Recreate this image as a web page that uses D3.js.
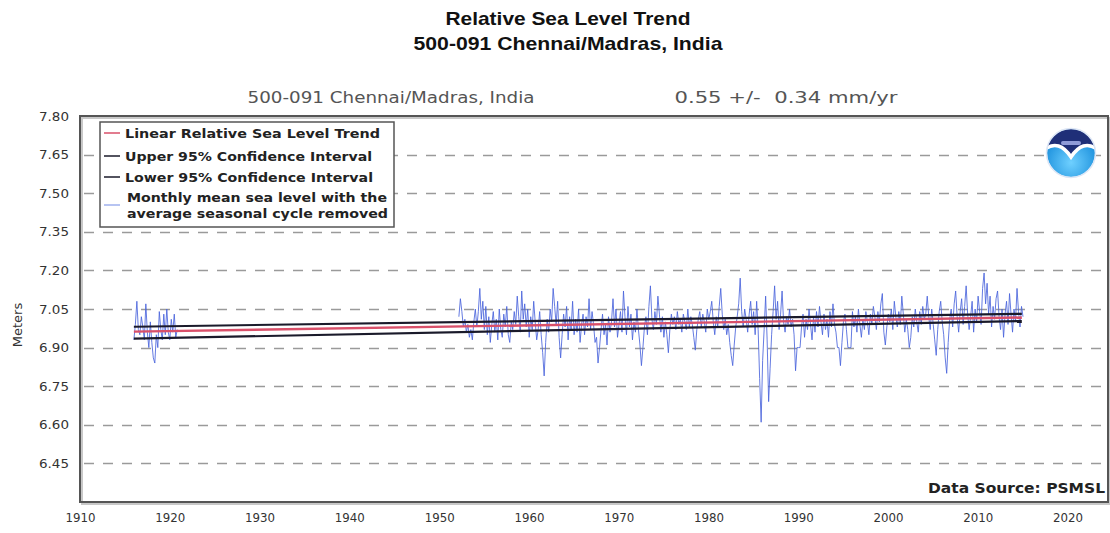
<!DOCTYPE html>
<html><head><meta charset="utf-8">
<script src="https://cdn.jsdelivr.net/npm/d3@7"></script>
<style>
body{margin:0;background:#fff;}
svg{display:block;}
text{white-space:pre;}
</style></head>
<body><svg id="chart" width="1110" height="533"></svg>
<script>
// ---------------- data ----------------
const titleLines = ["Relative Sea Level Trend", "500-091 Chennai/Madras, India"];
const stationLabel = "500-091 Chennai/Madras, India";
const trendLabel = "0.55 +/-  0.34 mm/yr";
const yTicks = [6.45, 6.60, 6.75, 6.90, 7.05, 7.20, 7.35, 7.50, 7.65, 7.80];
const xTicks = [1910, 1920, 1930, 1940, 1950, 1960, 1970, 1980, 1990, 2000, 2010, 2020];
const legendItems = ["Linear Relative Sea Level Trend", "Upper 95% Confidence Interval", "Lower 95% Confidence Interval", "Monthly mean sea level with the|average seasonal cycle removed"];

// trend and 95% confidence lines: [startYear, endYear] and their levels (m)
const trendYears = [1916.0, 2014.9];
const trendLinear = [6.962, 7.017];
const trendUpper = [6.981, 7.031];
const trendLower = [6.935, 7.003];

// monthly means (every 2 months), first block starts 1916
const earlyStart = 1916.0;
const earlyLevels = [
  6.93, 6.99, 7.08, 6.97, 6.95, 7.02,
  6.98, 6.93, 7.07, 6.96, 6.90, 7.00,
  6.92, 6.86, 6.84, 6.95, 6.90, 7.04,
  6.97, 6.93, 7.03, 6.95, 7.05, 6.96,
  6.93, 7.01, 6.96, 7.03, 6.94, 6.97
];
// second block starts 1952
const mainStart = 1952.2;
const mainLevels = [
  7.02, 7.09, 7.04, 6.98, 7.01, 6.96,
  6.99, 6.94, 6.97, 6.93, 7.00, 7.05,
  6.98, 7.04, 7.13, 7.01, 7.08, 6.97,
  7.06, 6.95, 7.02, 6.92, 6.99, 7.04,
  6.96, 7.01, 6.93, 7.05, 6.97, 6.94,
  7.03, 6.98, 7.06, 6.95, 6.92, 7.00,
  6.97, 7.04, 6.99, 7.10, 7.02, 6.96,
  7.12, 7.01, 7.07, 6.98, 7.05, 6.94,
  7.02, 6.97, 7.08, 7.00, 6.93, 6.97,
  7.04, 6.95, 6.88, 6.79, 6.92, 7.01,
  6.96, 7.05, 7.00, 7.13, 7.06, 6.99,
  7.08, 6.94, 6.86, 6.95, 7.03, 6.98,
  7.06, 6.93, 7.02, 6.97, 7.08, 6.95,
  7.01, 6.96, 7.05, 6.92, 6.99, 7.03,
  6.95, 7.02, 6.98, 7.09, 6.97, 7.04,
  6.99, 6.92, 6.94, 6.84, 6.90, 6.97,
  7.03, 6.95, 6.99, 6.91, 7.02, 6.96,
  7.00, 7.09, 6.98, 7.05, 6.94, 6.99,
  7.04, 6.96, 7.12, 7.02, 6.95, 7.06,
  6.98, 7.03, 6.93, 7.00, 6.96, 7.05,
  6.97, 6.91, 6.83, 6.90, 6.98, 7.02,
  6.95, 7.06, 7.14, 7.01, 6.97, 7.04,
  6.99, 7.10, 7.03, 6.96, 7.02, 6.94,
  7.00, 6.95, 6.88, 6.97, 7.03, 6.99,
  7.02, 6.97, 7.04, 6.99, 7.01, 6.96,
  7.03, 7.00, 6.97, 7.05, 6.98, 7.02,
  6.99, 6.94, 6.89, 6.97, 7.01, 7.04,
  6.98, 7.03, 7.00, 6.96, 7.05, 7.01,
  7.04, 7.08, 7.00, 6.95, 7.02, 6.98,
  7.06, 7.13, 7.03, 6.97, 7.01, 6.95,
  6.99, 6.92, 6.87, 6.83, 6.91, 6.98,
  7.02, 7.07, 7.17, 7.04, 6.98, 7.05,
  7.01, 6.96, 7.03, 7.08, 6.99, 7.04,
  6.95, 7.08, 6.97, 6.78, 6.61, 6.85,
  6.97, 7.10, 6.93, 6.69, 6.82, 6.95,
  7.04, 7.14, 7.01, 7.08, 6.97, 7.03,
  7.12, 7.00, 6.96, 7.02, 6.99, 7.05,
  6.98, 7.01, 6.95, 6.81, 6.90, 6.90,
  6.90, 6.98, 7.03, 6.94, 7.01, 6.97,
  7.05, 6.99, 6.93, 7.02, 6.96, 7.04,
  6.98, 7.06, 7.00, 6.95, 7.03, 6.97,
  7.01, 6.94, 7.04, 6.98, 7.07, 6.99,
  6.96, 6.90, 6.90, 6.83, 6.92, 7.00,
  7.03, 6.97, 6.90, 6.90, 6.90, 7.04,
  6.98, 7.02, 6.96, 7.05, 6.99, 6.94,
  7.01, 6.97, 7.04, 7.00, 6.95, 7.03,
  6.99, 7.06, 7.02, 6.97, 7.04, 7.00,
  7.07, 7.11, 6.96, 6.91, 6.98, 7.03,
  7.00, 7.05, 6.97, 7.08, 7.02, 6.98,
  7.04, 6.99, 7.10, 7.03, 6.96, 7.01,
  6.97, 6.90, 6.94, 7.02, 6.98, 7.05,
  7.00, 6.96, 7.04, 6.99, 7.06, 7.01,
  7.03, 7.10, 7.02, 6.97, 7.05, 6.99,
  6.93, 6.87, 6.97, 7.04, 7.08, 7.00,
  6.95, 6.86, 6.80, 6.92, 7.01, 7.05,
  6.98, 7.07, 7.12, 7.02, 6.96, 7.04,
  7.09, 6.99, 7.06, 7.14, 7.03, 6.97,
  7.02, 7.08, 6.96, 7.05, 7.00, 7.10,
  7.04, 6.99, 7.13, 7.19, 7.07, 7.15,
  7.03, 7.10, 6.98, 7.06, 7.01, 7.09,
  7.12, 7.02, 6.97, 7.05, 6.94, 7.03,
  7.08, 6.99, 7.11, 7.03, 6.96, 7.05,
  7.00, 7.13, 7.04, 6.98, 7.06, 7.02
];

// ---------------- chart ----------------
const svg = d3.select("#chart");
const plot = {left: 80, top: 116, right: 1108, bottom: 502};
const x = d3.scaleLinear().domain([1910, 2024.5]).range([plot.left, plot.right]);
const y = d3.scaleLinear().domain([6.30, 7.80]).range([plot.bottom, plot.top]);

const sans = "'Liberation Sans', Arial, sans-serif";
const dv = "'DejaVu Sans', sans-serif";

// Titles
const titleWidths = [245, 309];
svg.selectAll("text.title").data(titleLines).enter().append("text")
  .attr("x", 568).attr("y", (d, i) => 25 + i * 25)
  .attr("text-anchor", "middle").attr("font-family", sans)
  .attr("font-weight", "bold").attr("font-size", 19).attr("fill", "#111")
  .attr("textLength", (d, i) => titleWidths[i]).attr("lengthAdjust", "spacingAndGlyphs")
  .text(d => d);

svg.append("text").attr("x", 391).attr("y", 103).attr("text-anchor", "middle")
  .attr("font-family", dv).attr("font-size", 15).attr("fill", "#555")
  .attr("textLength", 287).attr("lengthAdjust", "spacingAndGlyphs").text(stationLabel);
svg.append("text").attr("x", 786).attr("y", 103).attr("text-anchor", "middle")
  .attr("font-family", dv).attr("font-size", 15).attr("fill", "#555")
  .attr("textLength", 223).attr("lengthAdjust", "spacingAndGlyphs").text(trendLabel);

// Frame shadow
svg.append("rect").attr("x", plot.left + 2).attr("y", plot.top + 2)
  .attr("width", plot.right - plot.left).attr("height", plot.bottom - plot.top)
  .attr("fill", "none").attr("stroke", "#c8c8c8").attr("stroke-width", 2);

// Grid lines
const gridTicks = yTicks.filter(v => v < 7.8);
svg.append("g").selectAll("line").data(gridTicks).enter().append("line")
  .attr("x1", plot.left + 2).attr("x2", plot.right)
  .attr("y1", d => Math.round(y(d)) + 0.5).attr("y2", d => Math.round(y(d)) + 0.5)
  .attr("stroke", "#9a9a9a").attr("stroke-width", 1.5).attr("stroke-dasharray", "10,9")
  .attr("stroke-dashoffset", -2);

// Y axis labels
const yAxis = d3.axisLeft(y).tickValues(yTicks).tickFormat(d3.format(".2f")).tickSize(0).tickPadding(11);
const gy = svg.append("g").attr("transform", `translate(${plot.left},0)`).call(yAxis);
gy.select(".domain").remove();
gy.selectAll("text").attr("font-family", dv).attr("font-size", 12.5).attr("fill", "#333")
  .attr("textLength", 30).attr("lengthAdjust", "spacingAndGlyphs");

// X axis labels
const xAxis = d3.axisBottom(x).tickValues(xTicks).tickFormat(d3.format("d")).tickSize(0).tickPadding(11);
const gx = svg.append("g").attr("transform", `translate(0,${plot.bottom})`).call(xAxis);
gx.select(".domain").remove();
gx.selectAll("text").attr("font-family", dv).attr("font-size", 12.5).attr("fill", "#333")
  .attr("textLength", 30).attr("lengthAdjust", "spacingAndGlyphs");

svg.append("text").attr("transform", "translate(22,325) rotate(-90)")
  .attr("text-anchor", "middle").attr("font-family", dv).attr("font-size", 13)
  .attr("fill", "#333").text("Meters");

// Data series
const early = earlyLevels.map((v, i) => ({t: earlyStart + i / 6, v}));
const main = mainLevels.map((v, i) => ({t: mainStart + i / 6, v}));
const line = d3.line().x(d => x(d.t)).y(d => y(d.v));
[early, main].forEach(s => {
  svg.append("path").datum(s).attr("d", line).attr("fill", "none")
    .attr("stroke", "#4a64dc").attr("stroke-width", 1).attr("stroke-opacity", 0.85);
});

// Trend & confidence lines
function seg(levels){ return trendYears.map((t, i) => ({t, v: levels[i]})); }
svg.append("path").datum(seg(trendUpper)).attr("d", line).attr("fill", "none").attr("stroke", "#1a1a2a").attr("stroke-width", 2.2);
svg.append("path").datum(seg(trendLower)).attr("d", line).attr("fill", "none").attr("stroke", "#1a1a2a").attr("stroke-width", 2.2);
svg.append("path").datum(seg(trendLinear)).attr("d", line).attr("fill", "none").attr("stroke", "#d9506a").attr("stroke-width", 2.4);

// Frame
svg.append("rect").attr("x", plot.left).attr("y", plot.top)
  .attr("width", plot.right - plot.left).attr("height", plot.bottom - plot.top)
  .attr("fill", "none").attr("stroke", "#555").attr("stroke-width", 2);

// Legend
const lg = svg.append("g");
lg.append("rect").attr("x", 100).attr("y", 122).attr("width", 294).attr("height", 105)
  .attr("fill", "#fff").attr("stroke", "#555").attr("stroke-width", 1.5);
const legColors = ["#d9506a", "#1a1a2a", "#1a1a2a", "#9fb0ee"];
const legY = [133, 156, 177, 205];
const legWidths = [[255], [247], [248], [260, 261]];
legendItems.forEach((txt, i) => {
  lg.append("line").attr("x1", 104).attr("x2", 120).attr("y1", legY[i]).attr("y2", legY[i])
    .attr("stroke", legColors[i]).attr("stroke-width", 1.5);
  const parts = txt.split("|");
  parts.forEach((p, j) => {
    lg.append("text").attr("x", 125 + (parts.length > 1 ? 2 : 0))
      .attr("y", legY[i] + 4.5 + (parts.length > 1 ? (j - 0.5) * 16 : 0))
      .attr("font-family", dv).attr("font-weight", "bold").attr("font-size", 13)
      .attr("fill", "#222").attr("textLength", legWidths[i][j]).attr("lengthAdjust", "spacingAndGlyphs")
      .text(p);
  });
});

// NOAA logo
const logo = svg.append("g").attr("transform", "translate(1071,153)");
const defs = svg.append("defs");
defs.append("clipPath").attr("id", "logoClip").append("circle").attr("r", 24);
const grad = defs.append("radialGradient").attr("id", "logoGrad").attr("cx", "50%").attr("cy", "70%").attr("r", "60%");
grad.append("stop").attr("offset", "0%").attr("stop-color", "#6fd0ff");
grad.append("stop").attr("offset", "100%").attr("stop-color", "#1a8fdc");
logo.append("circle").attr("r", 24).attr("fill", "url(#logoGrad)");
logo.append("path").attr("clip-path", "url(#logoClip)")
  .attr("d", "M-26,-30 L26,-30 L26,-4 Q12,-14 0,4 Q-12,-14 -26,-4 Z").attr("fill", "#1f2f78");
logo.append("path").attr("clip-path", "url(#logoClip)")
  .attr("d", "M-26,-4 Q-12,-14 0,4 Q12,-14 26,-4").attr("fill", "none").attr("stroke", "#fff").attr("stroke-width", 3.5);
logo.append("rect").attr("x", -10).attr("y", -12).attr("width", 20).attr("height", 4).attr("rx", 2).attr("fill", "#8f9bd8");
logo.append("circle").attr("r", 24.5).attr("fill", "none").attr("stroke", "#dde6f5").attr("stroke-width", 1.5);

// Data source
svg.append("text").attr("x", 1105).attr("y", 493).attr("text-anchor", "end")
  .attr("font-family", dv).attr("font-weight", "bold").attr("font-size", 14)
  .attr("fill", "#222").attr("textLength", 177).attr("lengthAdjust", "spacingAndGlyphs")
  .text("Data Source: PSMSL");
</script>
</body></html>
